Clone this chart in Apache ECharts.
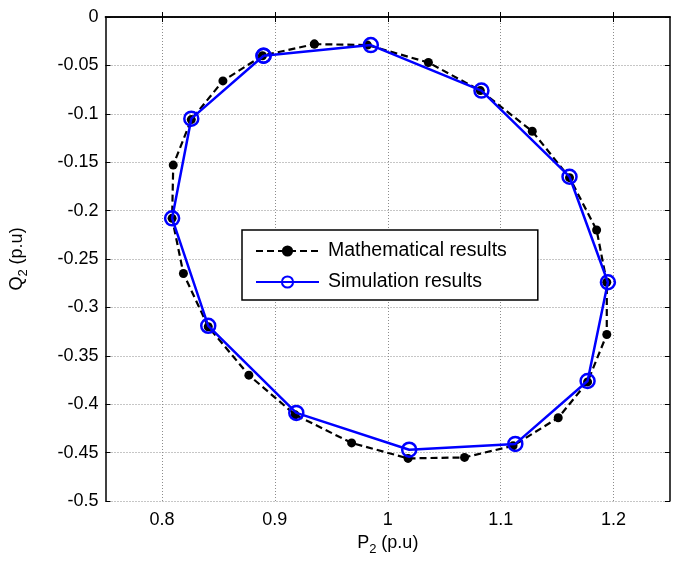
<!DOCTYPE html>
<html>
<head>
<meta charset="utf-8">
<script src="https://cdn.jsdelivr.net/npm/echarts@6/dist/echarts.min.js"></script>
<style>
  html, body { margin: 0; padding: 0; background: #fff; }
  #chart { width: 676px; height: 567px; }
</style>
</head>
<body>
<div id="chart"></div>
<script>
// 数学结果（24点）与仿真结果（12点），闭合曲线
const mathP = [0.935, 0.982, 1.036, 1.082, 1.128, 1.161, 1.185, 1.194, 1.194, 1.177, 1.151, 1.111,
               1.068, 1.018, 0.968, 0.918, 0.877, 0.841, 0.819, 0.809, 0.810, 0.826, 0.854, 0.889];
const mathQ = [-0.028, -0.029, -0.047, -0.076, -0.118, -0.166, -0.220, -0.274, -0.328, -0.377, -0.414, -0.443,
               -0.455, -0.456, -0.440, -0.411, -0.370, -0.320, -0.265, -0.208, -0.153, -0.106, -0.066, -0.040];
const simP = [0.890, 0.985, 1.083, 1.161, 1.195, 1.177, 1.113, 1.019, 0.919, 0.841, 0.809, 0.826];
const simQ = [-0.040, -0.029, -0.076, -0.165, -0.274, -0.376, -0.441, -0.447, -0.409, -0.319, -0.208, -0.105];
const xTicks = [0.8, 0.9, 1, 1.1, 1.2];
const seriesNames = ['Mathematical results', 'Simulation results'];

function closedLoop(xs, ys) {
    const pts = xs.map((x, i) => [x, ys[i]]);
    pts.push(pts[0]);
    return pts;
}

const font = 'Liberation Sans, Arial, sans-serif';
const chart = echarts.init(document.getElementById('chart'));

const gridLine = { show: true, lineStyle: { color: '#8c8c8c', type: [1, 2], width: 1 } };
const axisLine = { show: true, lineStyle: { color: '#000', width: 1.5 } };
const tickIn = { show: true, inside: true, length: 5, lineStyle: { color: '#000', width: 1 } };
const subStyle = {
    normal: { fontSize: 18, fontFamily: font, color: '#000' },
    sub: { fontSize: 13, fontFamily: font, color: '#000', padding: [12, 0, 0, 0] }
};

const option = {
    backgroundColor: '#fff',
    animation: false,
    grid: { left: 103, right: 6, top: 17, bottom: 66, containLabel: false },
    xAxis: [
        {
            type: 'value', min: 0.75, max: 1.25, position: 'bottom',
            name: '{normal|P}{sub|2}{normal| (p.u)}', nameLocation: 'middle', nameGap: 30,
            nameTextStyle: { rich: subStyle },
            axisLine: axisLine,
            axisTick: Object.assign({ customValues: xTicks }, tickIn),
            axisLabel: { customValues: xTicks, color: '#000', fontSize: 18, fontFamily: font, margin: 10 },
            splitLine: gridLine
        },
        {
            type: 'value', min: 0.75, max: 1.25, position: 'top',
            axisLine: axisLine,
            axisTick: Object.assign({ customValues: xTicks }, tickIn),
            axisLabel: { show: false },
            splitLine: { show: false }
        }
    ],
    yAxis: [
        {
            type: 'value', min: -0.5, max: 0, interval: 0.05, position: 'left',
            name: '{normal|Q}{sub|2}{normal| (p.u)}', nameLocation: 'middle', nameGap: 76, nameRotate: 90,
            nameTextStyle: { rich: subStyle },
            axisLine: axisLine,
            axisTick: tickIn,
            axisLabel: { color: '#000', fontSize: 18, fontFamily: font, margin: 7,
                formatter: v => String(+v.toFixed(2)) },
            splitLine: gridLine
        },
        {
            type: 'value', min: -0.5, max: 0, interval: 0.05, position: 'right',
            axisLine: axisLine,
            axisTick: tickIn,
            axisLabel: { show: false },
            splitLine: { show: false }
        }
    ],
    legend: {
        orient: 'vertical',
        left: 242, top: 230,
        backgroundColor: '#fff',
        borderColor: '#000', borderWidth: 1.5, borderRadius: 0,
        padding: [11, 31, 8, 13],
        itemWidth: 63, itemHeight: 14, itemGap: 11,
        textStyle: { color: '#000', fontSize: 19.5, fontFamily: font, padding: [0, 0, 0, 4] },
        data: seriesNames
    },
    series: [
        {
            name: seriesNames[0], type: 'line',
            data: closedLoop(mathP, mathQ),
            lineStyle: { color: '#000', width: 2.2, type: [7, 4] },
            symbol: 'circle', symbolSize: 9,
            itemStyle: { color: '#000' },
            z: 2
        },
        {
            name: seriesNames[1], type: 'line',
            data: closedLoop(simP, simQ),
            lineStyle: { color: '#0000ff', width: 2.5 },
            symbol: 'circle', symbolSize: 14,
            itemStyle: { color: 'rgba(0,0,0,0)', borderColor: '#0000ff', borderWidth: 2.5 },
            z: 3
        }
    ]
};
chart.setOption(option);
</script>
</body>
</html>
